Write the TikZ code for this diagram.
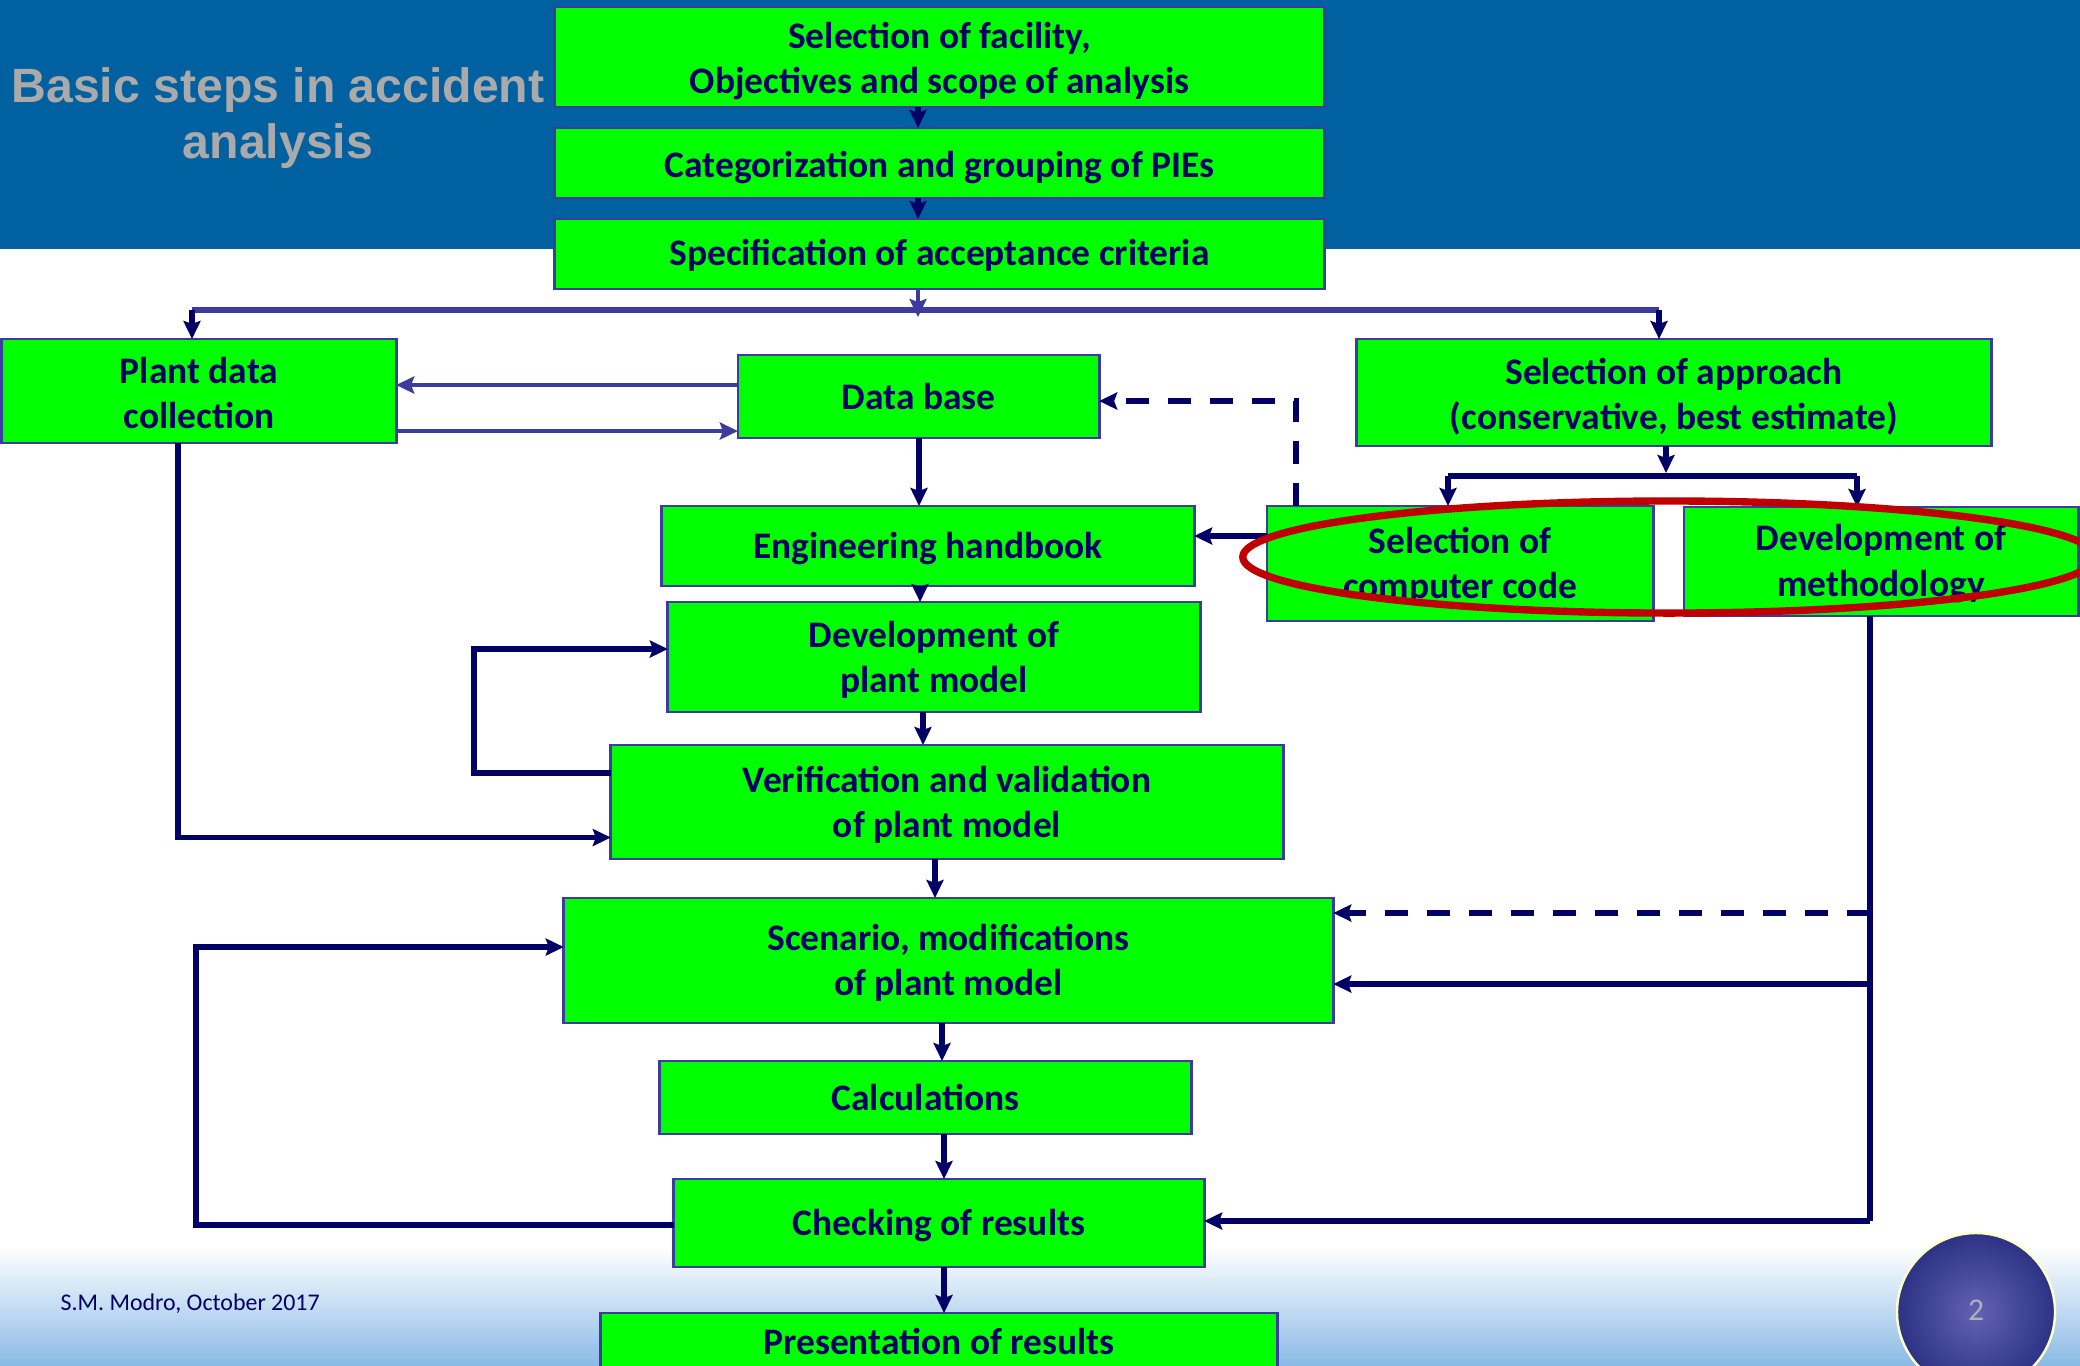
\documentclass[tikz,border=0pt]{standalone}
\usepackage{fontspec}
\setmainfont{Carlito}
\newfontfamily\titlefont{Liberation Sans}
\usetikzlibrary{arrows.meta,calc}
\definecolor{bandblue}{RGB}{0,96,160}
\definecolor{boxgreen}{RGB}{0,255,0}
\definecolor{boxborder}{RGB}{60,60,160}
\definecolor{navy}{RGB}{0,0,102}
\definecolor{titlegray}{RGB}{170,170,170}
\definecolor{bottomblue}{RGB}{138,186,230}
\definecolor{ellred}{RGB}{192,0,0}
\definecolor{pgInner}{RGB}{98,98,178}
\definecolor{pgOuter}{RGB}{44,50,132}
\definecolor{pgRim}{RGB}{255,255,200}
\definecolor{pgText}{RGB}{175,175,190}
\begin{document}
\begin{tikzpicture}[x=0.01cm,y=-0.01cm,
  box/.style={draw=boxborder, line width=0.8pt, fill=boxgreen, inner sep=0pt, outer sep=0pt},
  btext/.style={inner sep=0pt, align=center, text=navy, font=\bfseries\fontsize{10.65}{12.8}\selectfont},
  tip/.style={-{Stealth[length=0.18cm,width=0.17cm,inset=0.03cm]}},
  conn/.style={draw=navy, line width=1.6pt},
  arr/.style={conn, tip},
  arrB/.style={draw=boxborder, line width=1.3pt, tip},
  busline/.style={draw=boxborder, line width=1.5pt},
  dasharr/.style={draw=navy, line width=1.6pt, dash pattern=on 0.23cm off 0.19cm, tip},
  ]
\useasboundingbox (0,0) rectangle (2080,1365);
\clip (0,0) rectangle (2080,1365);
% background
\fill[white] (0,0) rectangle (2080,1365);
\fill[bandblue] (0,0) rectangle (2080,249);
\shade[top color=white, bottom color=bottomblue] (0,1247) rectangle (2080,1365);

% title
\node[font=\titlefont\bfseries\fontsize{13.7}{16}\selectfont, text=titlegray, align=center] (title) at (278,118) {Basic steps in accident\\analysis};

% boxes
\node[box, minimum width=7.69cm, minimum height=1.00cm] (fac) at (939.5,57) {};
\node[box, minimum width=7.69cm, minimum height=0.70cm] (cat) at (939.5,163) {};
\node[box, minimum width=7.69cm, minimum height=0.70cm] (spec) at (939.5,254) {};
\node[box, minimum width=3.94cm, minimum height=1.04cm] (plant) at (199,391) {};
\node[box, minimum width=3.61cm, minimum height=0.83cm] (db) at (918.5,396.5) {};
\node[box, minimum width=6.34cm, minimum height=1.07cm] (appr) at (1674,392.5) {};
\node[box, minimum width=5.32cm, minimum height=0.80cm] (eh) at (928,546) {};
\node[box, minimum width=3.86cm, minimum height=1.15cm] (scc) at (1460,563.5) {};
\node[box, minimum width=3.94cm, minimum height=1.09cm] (dom) at (1881,561.5) {};
\node[box, minimum width=5.32cm, minimum height=1.10cm] (dpm) at (934,657) {};
\node[box, minimum width=6.72cm, minimum height=1.14cm] (vv) at (947,802) {};
\node[box, minimum width=7.69cm, minimum height=1.25cm] (scen) at (948.5,960.5) {};
\node[box, minimum width=5.31cm, minimum height=0.73cm] (calc) at (925.5,1097.5) {};
\node[box, minimum width=5.30cm, minimum height=0.88cm] (chk) at (939,1223) {};
\node[box, minimum width=6.76cm, minimum height=0.56cm] (pres) at (939,1341) {};

% box texts
\node[btext] (facT) at ([yshift=-0.04cm]fac.center) {Selection of facility,\\Objectives and scope of analysis};
\node[btext] (catT) at ([yshift=-0.04cm]cat.center) {Categorization and grouping of PIEs};
\node[btext] (specT) at ([yshift=-0.015cm]spec.center) {Specification of acceptance criteria};
\node[btext] (plantT) at ([yshift=-0.015cm]plant.center) {Plant data\\collection};
\node[btext] (dbT) at (db.center) {Data base};
\node[btext] (apprT) at ([yshift=-0.04cm]appr.center) {Selection of approach\\(conservative, best estimate)};
\node[btext] (ehT) at ([yshift=-0.025cm]eh.center) {Engineering handbook};
\node[btext] (sccT) at ([yshift=-0.02cm]scc.center) {Selection of\\computer code};
\node[btext] (domT) at ([yshift=-0.02cm]dom.center) {Development of\\methodology};
\node[btext] (dpmT) at ([yshift=-0.03cm]dpm.center) {Development of\\plant model};
\node[btext] (vvT) at ([yshift=-0.03cm]vv.center) {Verification and validation\\of plant model};
\node[btext] (scenT) at ([yshift=-0.025cm]scen.center) {Scenario, modifications\\of plant model};
\node[btext] (calcT) at (calc.center) {Calculations};
\node[btext] (chkT) at ([yshift=-0.025cm]chk.center) {Checking of results};
\node[btext] (presT) at (pres.center) {Presentation of results};

% helper coordinates
\coordinate (cM) at (918,0);
\coordinate (busL) at (192,310);
\coordinate (busR) at (1659,310);
\coordinate (busM) at (918,317);
\coordinate (r385) at (0,385);
\coordinate (r431) at (0,431);
\coordinate (dA) at (1296,401);
\coordinate (c919) at (919,0);
\coordinate (c920) at (920,0);
\coordinate (c923) at (923,0);
\coordinate (c935) at (935,0);
\coordinate (c942) at (942,0);
\coordinate (c944) at (944,0);
\coordinate (r536) at (0,536);
\coordinate (b2L) at (1448,476);
\coordinate (b2R) at (1857,476);
\coordinate (b2M) at (1666,473);
\coordinate (pL) at (178,837.5);
\coordinate (lA) at (474,773);
\coordinate (lB) at (474,649);
\coordinate (mA) at (1870,1221);
\coordinate (m913) at (1870,913);
\coordinate (m984) at (1870,984);
\coordinate (kA) at (196,1225);
\coordinate (kB) at (196,947);

% connectors
\draw[arr] (fac.south -| cM) -- (cat.north -| cM);
\draw[arr] (cat.south -| cM) -- (spec.north -| cM);
\draw[busline] (busL) -- (busR);
\draw[arrB] (spec.south -| cM) -- (busM);
\draw[arr] (busL) -- (busL |- plant.north);
\draw[arr] (busR) -- (busR |- appr.north);
\draw[arrB] (db.west |- r385) -- (plant.east |- r385);
\draw[arrB] (plant.east |- r431) -- (db.west |- r431);
\draw[dasharr] (dA |- scc.north) -- (dA) -- (db.east |- dA);
\draw[arr] (db.south -| c919) -- (eh.north -| c919);
\draw[arr] (scc.west |- r536) -- (eh.east |- r536);
\draw[arr] (eh.south -| c920) -- (dpm.north -| c920);
\draw[arr] (dpm.south -| c923) -- (vv.north -| c923);
\draw[arr] (vv.south -| c935) -- (scen.north -| c935);
\draw[arr] (scen.south -| c942) -- (calc.north -| c942);
\draw[arr] (calc.south -| c944) -- (chk.north -| c944);
\draw[arr] (chk.south -| c944) -- (pres.north -| c944);
\draw[arr] (appr.south -| b2M) -- (b2M);
\draw[conn] (b2L) -- (b2R);
\draw[arr] (b2L) -- (b2L |- scc.north);
\draw[arr] (b2R) -- (b2R |- dom.north);
\draw[arr] (plant.south -| pL) -- (pL) -- (vv.west |- pL);
\draw[arr] (vv.west |- lA) -- (lA) -- (lB) -- (dpm.west |- lB);
\draw[conn] (dom.south -| mA) -- (mA);
\draw[arr] (mA) -- (chk.east |- mA);
\draw[dasharr] (m913) -- (scen.east |- m913);
\draw[arr] (m984) -- (scen.east |- m984);
\draw[arr] (chk.west |- kA) -- (kA) -- (kB) -- (scen.west |- kB);

% red highlight ellipse
\draw[ellred, line width=2.1pt] (1669,557) ellipse [x radius=4.26cm, y radius=0.56cm];

% footer
\node[font=\fontsize{6.8}{8}\selectfont, text=navy, anchor=west, inner sep=0pt] (foot) at (60,1304) {S.M. Modro, October 2017};
\shade[inner color=pgInner, outer color=pgOuter] (1976,1312) circle (0.79cm);
\draw[pgRim, line width=0.7pt] (1976,1312) circle (0.79cm);
\node[font=\fontsize{9}{10}\selectfont, text=pgText] (pg) at (1976,1310) {2};
\end{tikzpicture}
\end{document}
